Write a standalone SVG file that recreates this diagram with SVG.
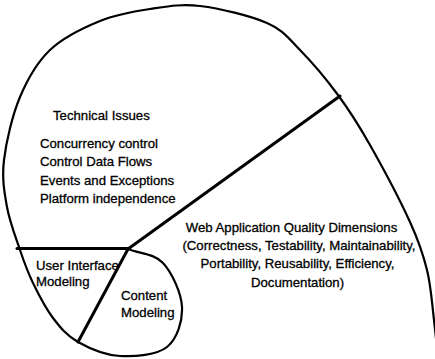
<svg xmlns="http://www.w3.org/2000/svg" width="435" height="359" viewBox="0 0 435 359">
<style>
.t{font-family:"Liberation Sans",Arial,Helvetica,sans-serif;font-size:13.2px;fill:#000;stroke:#000;stroke-width:0.3px}
.c{text-anchor:middle}
.outline{fill:none;stroke:#000;stroke-width:2.2;stroke-linejoin:round;stroke-linecap:round}
.div{fill:none;stroke:#000;stroke-width:3;stroke-linecap:round}
</style>
<rect width="435" height="359" fill="#fff"/>
<g id="boundary">
<path class="outline" d="M440,380 C438,360 436.2,338.3 434,320 C431.8,301.7 431,286.3 427,270 C423,253.7 419.5,242.8 410,222 C400.5,201.2 382,166.2 370,145 C358,123.8 349.7,110.8 338,95 C326.3,79.2 311.8,62 300,50 C288.2,38 283.7,30.3 267,23 C250.3,15.7 219.5,8.3 200,6 C180.5,3.7 166.7,6.5 150,9 C133.3,11.5 116.7,14.2 100,21 C83.3,27.8 63.3,37.3 50,50 C36.7,62.7 27.7,78.7 20,97 C12.3,115.3 6.2,141.7 4,160 C1.8,178.3 4.3,192 7,207 C9.7,222 15.7,237.3 20,250 C24.3,262.7 27.5,271.7 33,283 C38.5,294.3 45.5,308.2 53,318 C60.5,327.8 66.8,335.7 78,342 C89.2,348.3 105.2,355.2 120,356 C134.8,356.8 156.7,355.2 167,347 C177.3,338.8 182.7,321 182,307 C181.3,293 172,272.7 163,263 C154,253.3 139.7,253.7 128,249"/>
</g>
<g id="connectors">
<line class="div" x1="17" y1="248.5" x2="129" y2="248.5"/>
<line class="div" x1="128" y1="249" x2="340" y2="96"/>
<line class="div" x1="128" y1="249" x2="78" y2="342"/>
</g>
<g id="technical-issues">
<text class="t" x="53" y="120">Technical Issues</text>
<text class="t" x="40" y="148">Concurrency control</text>
<text class="t" x="40" y="166">Control Data Flows</text>
<text class="t" x="40" y="184.5">Events and Exceptions</text>
<text class="t" x="40" y="203">Platform independence</text>
</g>
<g id="web-quality-dimensions">
<text class="t c" x="291.5" y="232">Web Application Quality Dimensions</text>
<text class="t c" x="299" y="250">(Correctness, Testability, Maintainability,</text>
<text class="t c" x="297.5" y="268">Portability, Reusability, Efficiency,</text>
<text class="t c" x="297.5" y="287">Documentation)</text>
</g>
<g id="ui-modeling">
<text class="t" x="36" y="270">User Interface</text>
<text class="t" x="36" y="286">Modeling</text>
</g>
<g id="content-modeling">
<text class="t" x="121" y="300">Content</text>
<text class="t" x="121" y="317">Modeling</text>
</g>
</svg>
